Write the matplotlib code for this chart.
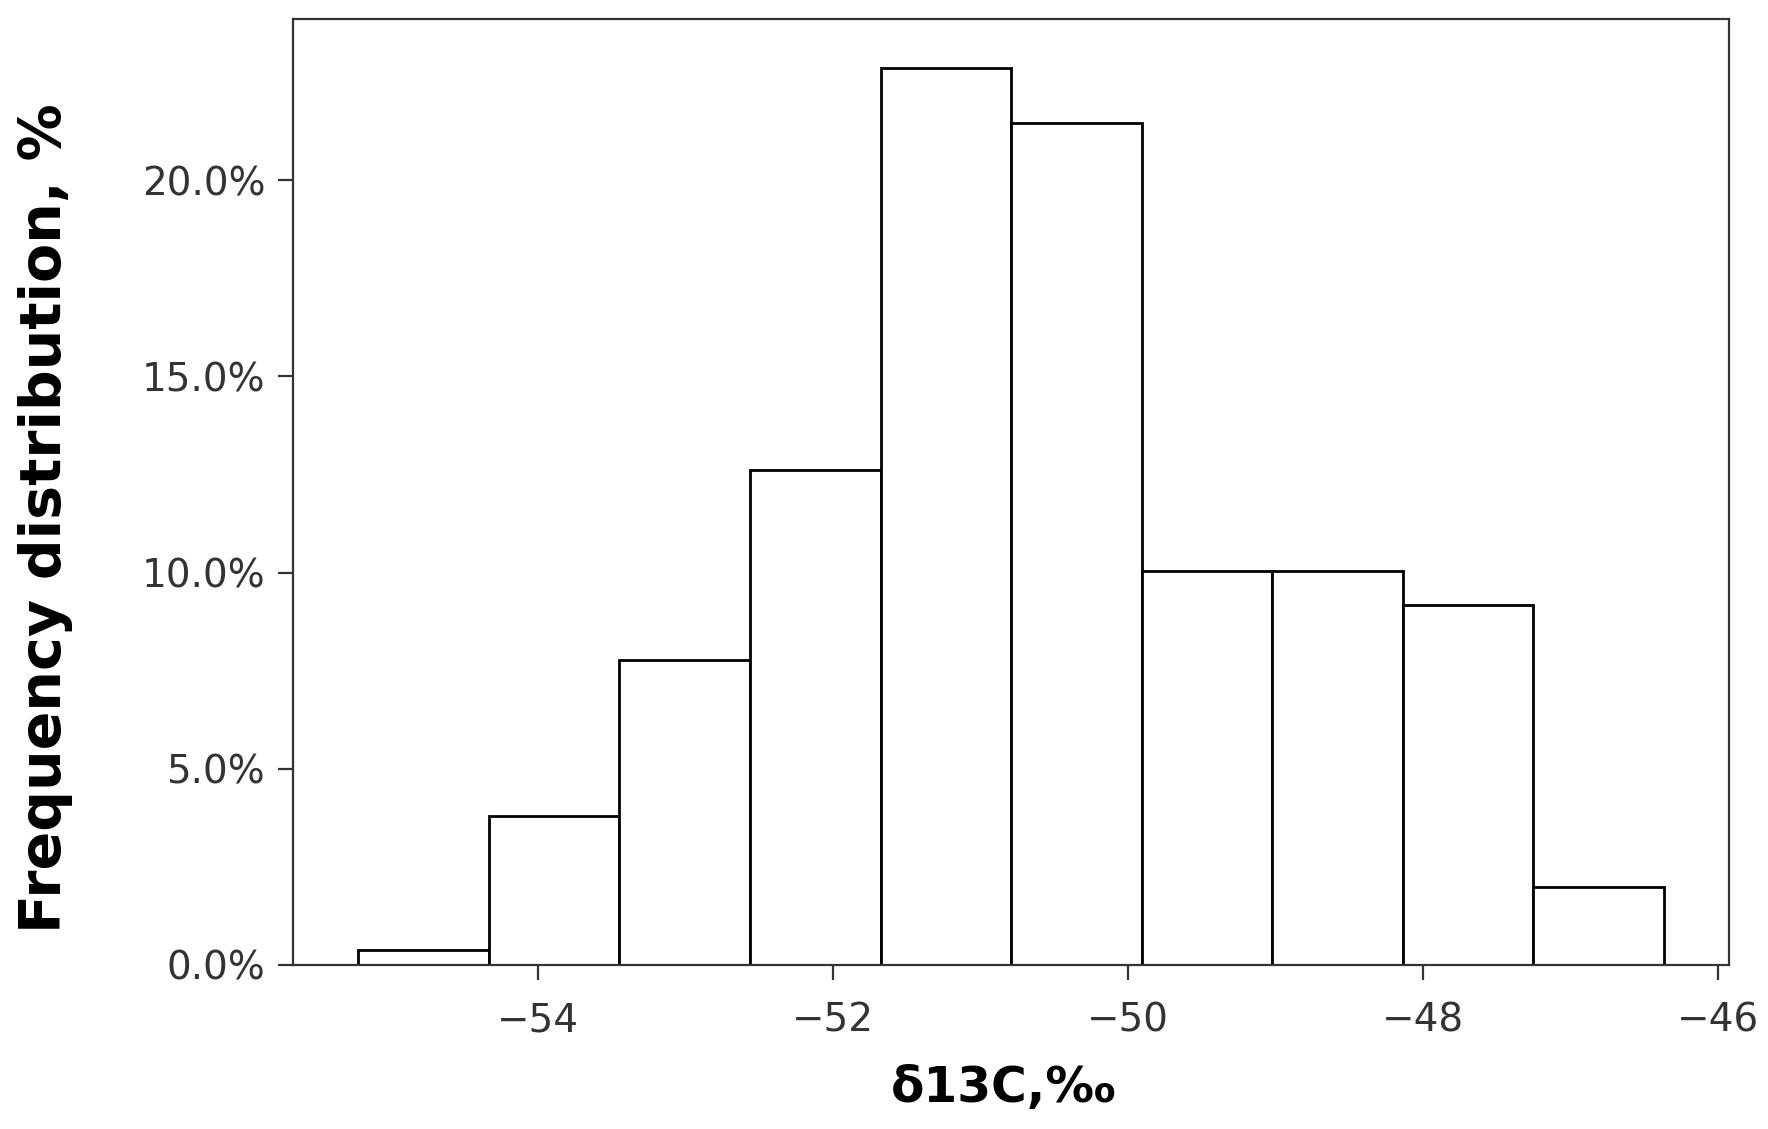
import matplotlib
matplotlib.use('Agg')
import matplotlib.pyplot as plt
import numpy as np
from matplotlib.ticker import PercentFormatter

plt.rcParams.update({
    'font.family': ['DejaVu Sans'],
    'axes.linewidth': 1.6,
    'axes.edgecolor': '#333333',
})

# ── Data ──
bin_edges = [-55.22, -54.335, -53.45, -52.565, -51.68, -50.795,
             -49.91, -49.025, -48.14, -47.255, -46.37]
freq_pct = [0.37, 3.79, 7.76, 12.6, 22.85, 21.45, 10.03, 10.03, 9.17, 1.98]
x_ticks = [-54, -52, -50, -48, -46]
y_ticks = [0, 5, 10, 15, 20]

fig = plt.figure(figsize=(17.68, 11.29), dpi=100)
ax = fig.add_axes([0.1657, 0.1453, 0.8123, 0.8377])

edges = np.array(bin_edges)
ax.bar(edges[:-1], freq_pct, width=np.diff(edges), align='edge',
       facecolor='white', edgecolor='black', linewidth=2.0)

ax.set_xlim(-55.664, -45.926)
ax.set_ylim(0, 24.1)
ax.set_xticks(x_ticks)
ax.set_yticks(y_ticks)
ax.set_xticklabels([f'\u2212{abs(v)}' for v in x_ticks])
ax.yaxis.set_major_formatter(PercentFormatter(decimals=1))
ax.tick_params(axis='both', direction='out', length=11, width=1.6,
               color='#333333', labelsize=28, labelcolor='#333333', pad=9)
ax.tick_params(axis='x', pad=15)

ax.set_xlabel('δ13C,‰', fontsize=35, fontweight='bold')
ax.xaxis.set_label_coords(0.495, -0.105)
ax.set_ylabel('Frequency distribution, %', fontsize=41, fontweight='bold')
ax.yaxis.set_label_coords(-0.153, 0.4725)

fig.savefig('out.png', dpi=100)
